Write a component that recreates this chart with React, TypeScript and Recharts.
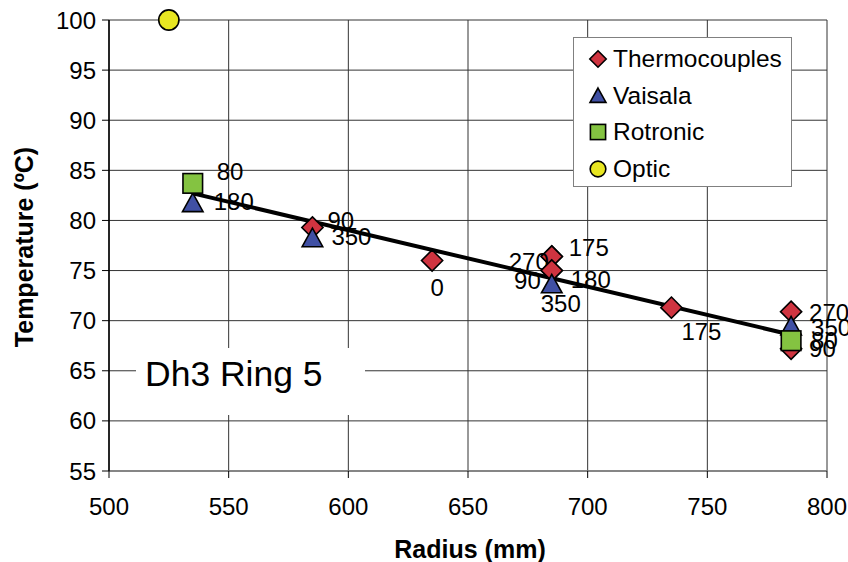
import React from 'react';
import { ScatterChart, Scatter, XAxis, YAxis, CartesianGrid, Legend, Label } from 'recharts';

const FONT = '"Liberation Sans", Arial, Helvetica, sans-serif';

// Axis ticks
const xTicks = [500, 550, 600, 650, 700, 750, 800];
const yTicks = [55, 60, 65, 70, 75, 80, 85, 90, 95, 100];

// Thermocouples
const thermoRadius = [585, 635, 685, 685, 685, 685, 735, 785, 785];
const thermoTemp = [79.3, 76.0, 76.4, 76.4, 75.0, 75.0, 71.3, 70.9, 67.2];
const thermoAngle = ['90', '0', '175', '270', '180', '90', '175', '270', '90'];

// Vaisala
const vaisalaRadius = [535, 585, 685, 785];
const vaisalaTemp = [81.7, 78.2, 73.6, 69.4];
const vaisalaAngle = ['180', '350', '350', '350'];

// Rotronic
const rotronicRadius = [535, 785];
const rotronicTemp = [83.7, 68.0];
const rotronicAngle = ['80', '80'];

// Optic
const opticRadius = [525];
const opticTemp = [100];
const opticAngle = [''];

// Linear trend line
const trendRadius = [535, 785];
const trendTemp = [82.7, 68.6];

const toPoints = (rs: number[], ts: number[], as: string[]) =>
  rs.map((r, i) => ({ r, t: ts[i], a: as[i] }));

const thermo = toPoints(thermoRadius, thermoTemp, thermoAngle);
const vaisala = toPoints(vaisalaRadius, vaisalaTemp, vaisalaAngle);
const rotronic = toPoints(rotronicRadius, rotronicTemp, rotronicAngle);
const optic = toPoints(opticRadius, opticTemp, opticAngle);
const trend = trendRadius.map((r, i) => ({ r, t: trendTemp[i] }));

// data-label placement (layout only): [dx, dy, anchor]
const LABEL_PLACE: Record<string, [number, number, string]> = {
  'T:585:90': [15, -7, 'start'],
  'T:635:0': [5, 27, 'middle'],
  'T:685:175': [17, -9.5, 'start'],
  'T:685:270': [-3, 5, 'end'],
  'T:685:180': [19, 8.5, 'start'],
  'T:685:90': [-11, 10, 'end'],
  'T:735:175': [10, 24, 'start'],
  'T:785:270': [18, 1, 'start'],
  'T:785:90': [18, 0, 'start'],
  'V:535:180': [21, -2, 'start'],
  'V:585:350': [19, -2, 'start'],
  'V:685:350': [9, 19, 'middle'],
  'V:785:350': [20, 1, 'start'],
  'R:535:80': [24, -12, 'start'],
  'R:785:80': [20, 0, 'start'],
};

const COLORS = {
  T: '#CF3440',
  V: '#4050A4',
  R: '#84C341',
  O: '#E8E622',
};

const drawSymbol = (kind: string, cx: number, cy: number, s: number) => {
  const sw = 1.6;
  if (kind === 'T') {
    const d = s * 1.08;
    return (
      <polygon
        points={`${cx},${cy - d} ${cx + d},${cy} ${cx},${cy + d} ${cx - d},${cy}`}
        fill={COLORS.T}
        stroke="#000"
        strokeWidth={sw}
      />
    );
  }
  if (kind === 'V') {
    const d = s * 1.05;
    return (
      <polygon
        points={`${cx},${cy - d} ${cx + d},${cy + d * 0.8} ${cx - d},${cy + d * 0.8}`}
        fill={COLORS.V}
        stroke="#000"
        strokeWidth={sw}
      />
    );
  }
  if (kind === 'R') {
    return (
      <rect x={cx - s} y={cy - s} width={2 * s} height={2 * s} fill={COLORS.R} stroke="#000" strokeWidth={sw} />
    );
  }
  return <circle cx={cx} cy={cy} r={s * 1.03} fill={COLORS.O} stroke="#000" strokeWidth={sw} />;
};

const makeShape = (kind: string) => (p: any) => {
  const { cx, cy, payload } = p;
  if (cx == null || cy == null) return <g />;
  const label = payload && payload.a;
  const place = LABEL_PLACE[`${kind}:${payload.r}:${label}`] || [18, 0, 'start'];
  return (
    <g>
      {drawSymbol(kind, cx, cy, 9.8)}
      {label ? (
        <text
          x={cx + place[0]}
          y={cy + place[1]}
          dy="0.36em"
          textAnchor={place[2] as any}
          fontSize={24}
          fontFamily={FONT}
          fill="#000"
        >
          {label}
        </text>
      ) : null}
    </g>
  );
};

const SERIES = [
  { key: 'T', name: 'Thermocouples' },
  { key: 'V', name: 'Vaisala' },
  { key: 'R', name: 'Rotronic' },
  { key: 'O', name: 'Optic' },
];

const renderLegend = () => (
  <div
    style={{
      width: 219,
      height: 150,
      boxSizing: 'border-box',
      border: '1px solid #808080',
      background: '#fff',
      paddingTop: 3,
      fontFamily: FONT,
    }}
  >
    {SERIES.map((s) => (
      <div key={s.key} style={{ display: 'flex', alignItems: 'center', height: 36.5, paddingLeft: 14 }}>
        <svg width={20} height={20} style={{ display: 'block' }}>
          {drawSymbol(s.key, 10, 10, 7.6)}
        </svg>
        <span style={{ marginLeft: 5, fontSize: 24.5, lineHeight: '26px', color: '#000' }}>{s.name}</span>
      </div>
    ))}
  </div>
);

export default function App() {
  return (
    <div style={{ position: 'absolute', left: 0, top: 0, width: 848, height: 562, background: '#fff', fontFamily: FONT }}>
      <ScatterChart width={848} height={562} margin={{ top: 20, right: 21, bottom: 0, left: 0 }}>
        <CartesianGrid stroke="#333" strokeWidth={1} />
        <XAxis
          type="number"
          dataKey="r"
          domain={[500, 800]}
          ticks={xTicks}
          interval={0}
          height={91}
          tickSize={7}
          tickMargin={20}
          axisLine={{ stroke: '#808080', strokeWidth: 1.5 }}
          tickLine={{ stroke: '#000' }}
          tick={{ fontSize: 24, fill: '#000', fontFamily: FONT }}
        >
          <Label
            content={() => (
              <text x={470} y={558} textAnchor="middle" fontSize={25} fontWeight="bold" fontFamily={FONT} fill="#000">
                Radius (mm)
              </text>
            )}
          />
        </XAxis>
        <YAxis
          type="number"
          dataKey="t"
          domain={[55, 100]}
          ticks={yTicks}
          interval={0}
          width={109}
          tickSize={7}
          tickMargin={6}
          axisLine={{ stroke: '#000', strokeWidth: 1.5 }}
          tickLine={{ stroke: '#000' }}
          tick={{ fontSize: 24, fill: '#000', fontFamily: FONT }}
        >
          <Label
            content={() => (
              <text
                x={33}
                y={247}
                transform="rotate(-90 33 247)"
                textAnchor="middle"
                fontSize={25}
                fontWeight="bold"
                fontFamily={FONT}
                fill="#000"
              >
                Temperature (ºC)
              </text>
            )}
          />
        </YAxis>
        <Legend
          layout="vertical"
          align="center"
          verticalAlign="middle"
          content={renderLegend}
          wrapperStyle={{ left: 573, top: 37, width: 219, height: 150 }}
        />
        <Scatter
          name="trend"
          data={trend}
          line={{ stroke: '#000', strokeWidth: 4 }}
          shape={() => <g />}
          legendType="none"
          isAnimationActive={false}
        />
        <Scatter name="Thermocouples" data={thermo} fill={COLORS.T} shape={makeShape('T')} isAnimationActive={false} />
        <Scatter name="Vaisala" data={vaisala} fill={COLORS.V} shape={makeShape('V')} isAnimationActive={false} />
        <Scatter name="Rotronic" data={rotronic} fill={COLORS.R} shape={makeShape('R')} isAnimationActive={false} />
        <Scatter name="Optic" data={optic} fill={COLORS.O} shape={makeShape('O')} isAnimationActive={false} />
      </ScatterChart>
      <div
        style={{
          position: 'absolute',
          left: 136,
          top: 348,
          width: 229,
          height: 67,
          boxSizing: 'border-box',
          background: '#fff',
          padding: '6px 0 0 9px',
          fontSize: 35.5,
          lineHeight: 'normal',
          color: '#000',
          fontFamily: FONT,
          whiteSpace: 'nowrap',
        }}
      >
        Dh3 Ring 5
      </div>
    </div>
  );
}
